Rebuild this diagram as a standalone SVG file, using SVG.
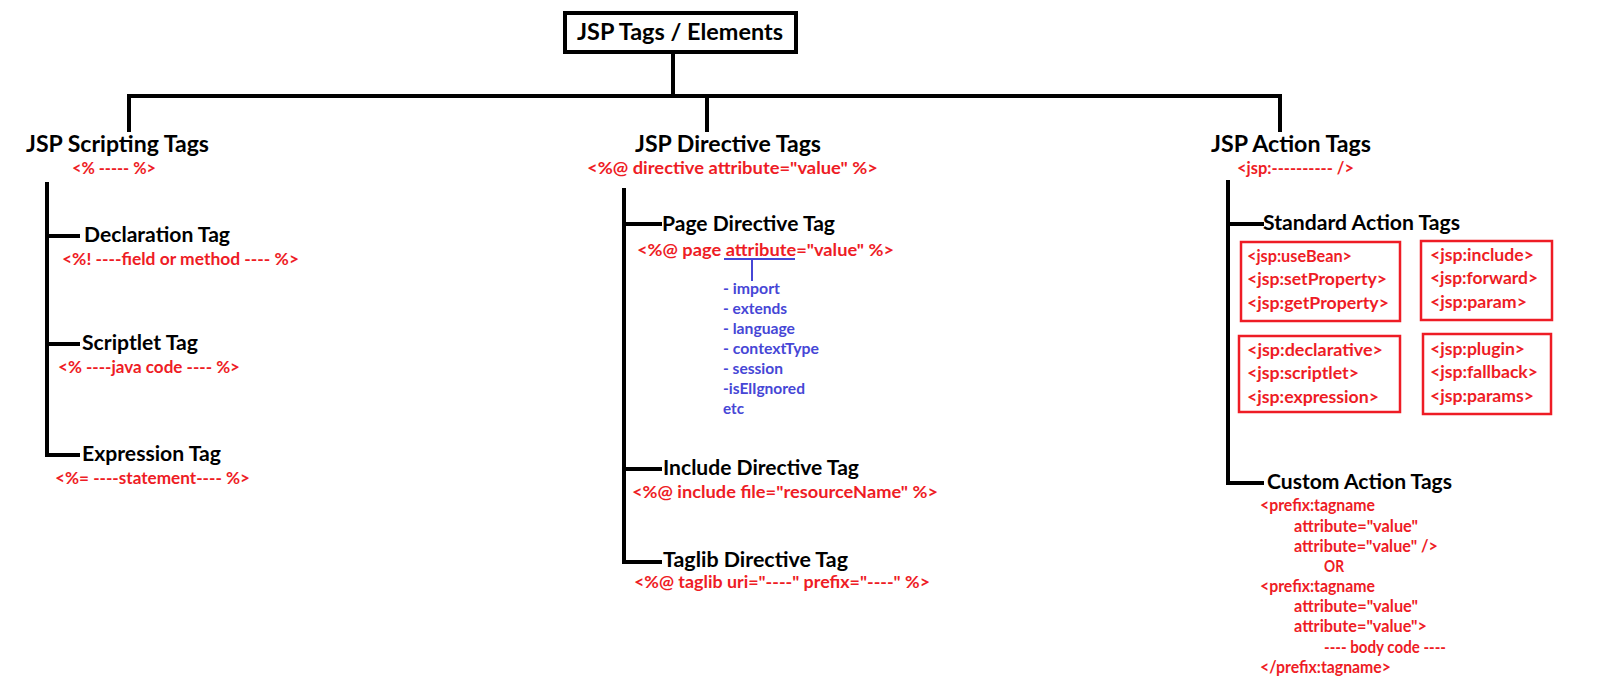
<svg xmlns="http://www.w3.org/2000/svg" width="1600" height="683" viewBox="0 0 1600 683">
<style>
text{font-family:Lato,"Open Sans","Liberation Sans",sans-serif;font-weight:700}
.h{font-size:22px;fill:#000}
.s{font-size:20px;fill:#000}
.r{font-size:17px;fill:#EE1C25}
.b{font-size:15px;fill:#4646D6}
.ln{stroke:#000;stroke-width:4;fill:none;stroke-linecap:square}
.rb{stroke:#EE1C25;stroke-width:2.5;fill:none}
.bl{stroke:#4646D6;stroke-width:2;fill:none}
</style>
<rect width="1600" height="683" fill="#fff"/>
<g id="connectors">
<path class="ln" d="M673 54V96M129 96H1280M129 96V130M707 96V130M1280 96V130"/>
<path class="ln" d="M47 184V455H78M47 236H78M47 344H78"/>
<path class="ln" d="M624 190V562H660M624 224H660M624 469H660"/>
<path class="ln" d="M1228 182V483H1262M1228 224H1262"/>
<path class="bl" d="M724 259H795M752 259V281"/>
</g>
<g id="root">
<rect x="565" y="13" width="231" height="39" fill="#fff" stroke="#000" stroke-width="4"/>
<text class="h" x="577" y="40" textLength="206" lengthAdjust="spacingAndGlyphs">JSP Tags / Elements</text>
</g>
<g id="scripting">
<text class="h" x="26" y="152" textLength="183" lengthAdjust="spacingAndGlyphs">JSP Scripting Tags</text>
<text class="r" x="72" y="174" textLength="84" lengthAdjust="spacingAndGlyphs">&lt;% ----- %&gt;</text>
</g>
<g id="declaration">
<text class="s" x="84" y="242" textLength="146" lengthAdjust="spacingAndGlyphs">Declaration Tag</text>
<text class="r" x="62" y="265" textLength="237" lengthAdjust="spacingAndGlyphs">&lt;%! ----field or method ---- %&gt;</text>
</g>
<g id="scriptlet">
<text class="s" x="82" y="350" textLength="116" lengthAdjust="spacingAndGlyphs">Scriptlet Tag</text>
<text class="r" x="58" y="373" textLength="182" lengthAdjust="spacingAndGlyphs">&lt;% ----java code ---- %&gt;</text>
</g>
<g id="expression">
<text class="s" x="82" y="461" textLength="139" lengthAdjust="spacingAndGlyphs">Expression Tag</text>
<text class="r" x="55" y="484" textLength="195" lengthAdjust="spacingAndGlyphs">&lt;%= ----statement---- %&gt;</text>
</g>
<g id="directive">
<text class="h" x="635" y="152" textLength="186" lengthAdjust="spacingAndGlyphs">JSP Directive Tags</text>
<text class="r" x="587" y="174" textLength="291" lengthAdjust="spacingAndGlyphs">&lt;%@ directive attribute="value" %&gt;</text>
</g>
<g id="page-directive">
<text class="s" x="662" y="231" textLength="173" lengthAdjust="spacingAndGlyphs">Page Directive Tag</text>
<text class="r" x="637" y="256" textLength="257" lengthAdjust="spacingAndGlyphs">&lt;%@ page attribute="value" %&gt;</text>
<text class="b" x="723" y="294" textLength="57" lengthAdjust="spacingAndGlyphs">- import</text>
<text class="b" x="723" y="314" textLength="64" lengthAdjust="spacingAndGlyphs">- extends</text>
<text class="b" x="723" y="334" textLength="72" lengthAdjust="spacingAndGlyphs">- language</text>
<text class="b" x="723" y="354" textLength="96" lengthAdjust="spacingAndGlyphs">- contextType</text>
<text class="b" x="723" y="374" textLength="60" lengthAdjust="spacingAndGlyphs">- session</text>
<text class="b" x="723" y="394" textLength="82" lengthAdjust="spacingAndGlyphs">-isElIgnored</text>
<text class="b" x="723" y="414" textLength="21" lengthAdjust="spacingAndGlyphs">etc</text>
</g>
<g id="include-directive">
<text class="s" x="663" y="475" textLength="196" lengthAdjust="spacingAndGlyphs">Include Directive Tag</text>
<text class="r" x="632" y="498" textLength="306" lengthAdjust="spacingAndGlyphs">&lt;%@ include file="resourceName" %&gt;</text>
</g>
<g id="taglib-directive">
<text class="s" x="663" y="567" textLength="185" lengthAdjust="spacingAndGlyphs">Taglib Directive Tag</text>
<text class="r" x="634" y="588" textLength="296" lengthAdjust="spacingAndGlyphs">&lt;%@ taglib uri="----" prefix="----" %&gt;</text>
</g>
<g id="action">
<text class="h" x="1211" y="152" textLength="160" lengthAdjust="spacingAndGlyphs">JSP Action Tags</text>
<text class="r" x="1237" y="174" textLength="117" lengthAdjust="spacingAndGlyphs">&lt;jsp:---------- /&gt;</text>
</g>
<g id="standard-action">
<text class="s" x="1263" y="230" textLength="197" lengthAdjust="spacingAndGlyphs">Standard Action Tags</text>
<rect class="rb" x="1241" y="242" width="159" height="79"/>
<text class="r" x="1247" y="262" textLength="105" lengthAdjust="spacingAndGlyphs">&lt;jsp:useBean&gt;</text>
<text class="r" x="1247" y="285" textLength="140" lengthAdjust="spacingAndGlyphs">&lt;jsp:setProperty&gt;</text>
<text class="r" x="1247" y="309" textLength="142" lengthAdjust="spacingAndGlyphs">&lt;jsp:getProperty&gt;</text>
<rect class="rb" x="1421" y="241" width="131" height="79"/>
<text class="r" x="1430" y="261" textLength="104" lengthAdjust="spacingAndGlyphs">&lt;jsp:include&gt;</text>
<text class="r" x="1430" y="284" textLength="108" lengthAdjust="spacingAndGlyphs">&lt;jsp:forward&gt;</text>
<text class="r" x="1430" y="308" textLength="97" lengthAdjust="spacingAndGlyphs">&lt;jsp:param&gt;</text>
<rect class="rb" x="1239" y="336" width="161" height="76"/>
<text class="r" x="1247" y="356" textLength="136" lengthAdjust="spacingAndGlyphs">&lt;jsp:declarative&gt;</text>
<text class="r" x="1247" y="379" textLength="112" lengthAdjust="spacingAndGlyphs">&lt;jsp:scriptlet&gt;</text>
<text class="r" x="1247" y="403" textLength="132" lengthAdjust="spacingAndGlyphs">&lt;jsp:expression&gt;</text>
<rect class="rb" x="1423" y="334" width="128" height="80"/>
<text class="r" x="1430" y="355" textLength="95" lengthAdjust="spacingAndGlyphs">&lt;jsp:plugin&gt;</text>
<text class="r" x="1430" y="378" textLength="108" lengthAdjust="spacingAndGlyphs">&lt;jsp:fallback&gt;</text>
<text class="r" x="1430" y="402" textLength="104" lengthAdjust="spacingAndGlyphs">&lt;jsp:params&gt;</text>
</g>
<g id="custom-action">
<text class="s" x="1267" y="489" textLength="185" lengthAdjust="spacingAndGlyphs">Custom Action Tags</text>
<text class="r" x="1260" y="511" textLength="115" lengthAdjust="spacingAndGlyphs">&lt;prefix:tagname</text>
<text class="r" x="1294" y="532" textLength="124" lengthAdjust="spacingAndGlyphs">attribute="value"</text>
<text class="r" x="1294" y="552" textLength="144" lengthAdjust="spacingAndGlyphs">attribute="value" /&gt;</text>
<text class="r" x="1324" y="572" textLength="20" lengthAdjust="spacingAndGlyphs">OR</text>
<text class="r" x="1260" y="592" textLength="115" lengthAdjust="spacingAndGlyphs">&lt;prefix:tagname</text>
<text class="r" x="1294" y="612" textLength="124" lengthAdjust="spacingAndGlyphs">attribute="value"</text>
<text class="r" x="1294" y="632" textLength="133" lengthAdjust="spacingAndGlyphs">attribute="value"&gt;</text>
<text class="r" x="1324" y="653" textLength="122" lengthAdjust="spacingAndGlyphs">---- body code ----</text>
<text class="r" x="1260" y="673" textLength="131" lengthAdjust="spacingAndGlyphs">&lt;/prefix:tagname&gt;</text>
</g>
</svg>
